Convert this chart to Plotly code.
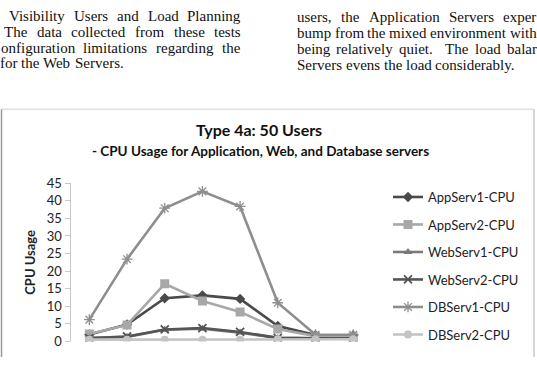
import plotly.graph_objects as go

categories = ["1", "2", "3", "4", "5", "6", "7", "8"]
app1 = [2.0, 4.8, 12.3, 13.1, 12.1, 4.4, 1.8, 1.7]
app2 = [2.1, 4.7, 16.4, 11.5, 8.4, 3.5, 1.5, 1.3]
web1 = [1.0, 1.3, 3.3, 3.6, 2.5, 1.0, 0.9, 0.9]
web2 = [0.9, 1.4, 3.4, 3.8, 2.7, 1.0, 0.9, 0.9]
db1 = [6.2, 23.4, 37.9, 42.7, 38.4, 11.0, 1.9, 1.9]
db2 = [0.5, 0.5, 0.5, 0.5, 0.5, 0.6, 0.6, 0.6]
y_ticks = [0, 5, 10, 15, 20, 25, 30, 35, 40, 45]

left_text = [
    "Visibility Users and Load Planning",
    "The data collected from these tests",
    "onfiguration limitations regarding the",
    "for the Web Servers.",
]
right_text = [
    "users, the Application Servers exper",
    "bump from the mixed environment with",
    "being relatively quiet.  The load balar",
    "Servers evens the load considerably.",
]

W, H = 537, 365
def px(x):
    return x / W
def py(y):
    return 1 - y / H

series = [
    ("AppServ1-CPU", app1, "#4a4a4a", "diamond", 8, None),
    ("AppServ2-CPU", app2, "#a8a8a8", "square", 9, None),
    ("WebServ1-CPU", web1, "#7a7a7a", "triangle-up", 8, None),
    ("WebServ2-CPU", web2, "#555555", "x-thin-open", 8, 1.8),
    ("DBServ1-CPU", db1, "#8e8e8e", "asterisk-open", 9, 1.3),
    ("DBServ2-CPU", db2, "#c4c4c4", "circle", 8, None),
]

fig = go.Figure()
for i, (name, vals, color, sym, size, lw) in enumerate(series):
    marker = dict(symbol=sym, size=size, color=color)
    if lw:
        marker["line"] = dict(color=color, width=lw)
    fig.add_trace(go.Scatter(
        x=categories, y=vals, name=name, mode="lines+markers",
        line=dict(color=color, width=2.6), marker=marker,
        legendgroup=f"g{i}",
    ))

font_family = "Lato, 'Open Sans', sans-serif"
fig.update_layout(
    width=W, height=H,
    margin=dict(l=0, r=0, t=0, b=0),
    paper_bgcolor="white", plot_bgcolor="white",
    showlegend=True,
    legend=dict(
        x=px(388), y=py(182), xanchor="left", yanchor="top",
        font=dict(family=font_family, size=13, color="#222222"),
        tracegroupgap=7.6, bgcolor="rgba(0,0,0,0)",
    ),
    xaxis=dict(
        domain=[px(70.5), px(372)], type="category",
        categoryorder="array", categoryarray=categories,
        range=[-0.5, 7.5], showticklabels=False, ticks="",
        showgrid=False, zeroline=False, showline=False,
    ),
    yaxis=dict(
        domain=[py(348.7), py(183.3)], range=[0, 45],
        tickvals=y_ticks, ticks="outside", ticklen=5, tickcolor="#c8c8c8",
        showline=True, linecolor="#c8c8c8", linewidth=1,
        showgrid=False, zeroline=False,
        tickfont=dict(family=font_family, size=13, color="#222222"),
        title=dict(text="<b>CPU Usage</b>", standoff=8,
                   font=dict(family=font_family, size=13, color="#222222")),
    ),
)

# chart titles
fig.add_annotation(x=px(258.5), y=py(127), xref="paper", yref="paper",
                   text="<b>Type 4a: 50 Users</b>", showarrow=False,
                   font=dict(family=font_family, size=16, color="#111111"))
fig.add_annotation(x=px(260), y=py(150), xref="paper", yref="paper",
                   text="<b>- CPU Usage for Application, Web, and Database servers</b>",
                   showarrow=False,
                   font=dict(family=font_family, size=13.5, color="#111111"))

# chart frame
fig.add_shape(type="line", xref="paper", yref="paper", x0=px(1.5), x1=px(534),
              y0=py(106), y1=py(106), line=dict(color="#e6e6e6", width=2))
fig.add_shape(type="line", xref="paper", yref="paper", x0=px(1.5), x1=px(1.5),
              y0=py(106), y1=0, line=dict(color="#9a9a9a", width=1.5))
fig.add_shape(type="line", xref="paper", yref="paper", x0=px(534), x1=px(534),
              y0=py(106), y1=0, line=dict(color="#c8c8c8", width=1.5))

# surrounding document text (Times metrics, justified word placement)
TW = {c: w for c, w in zip("abcdefghijklmnopqrstuvwxyz",
      [444, 500, 444, 500, 444, 333, 500, 500, 278, 278, 500, 278, 778,
       500, 500, 500, 500, 333, 389, 278, 500, 500, 722, 500, 500, 444])}
TW.update({c: w for c, w in zip("ABCDEFGHIJKLMNOPQRSTUVWXYZ",
      [722, 667, 667, 722, 611, 556, 722, 722, 333, 389, 722, 611, 889,
       722, 722, 556, 722, 667, 556, 611, 722, 722, 944, 722, 722, 611])})
TW.update({".": 250, ",": 250, "-": 333, " ": 250})
FS = 15.0
serif = "'Liberation Serif', 'Times New Roman', serif"

def word_w(w):
    return sum(TW.get(c, 500) for c in w) * FS / 1000.0

def place_line(text, x0, x1, baseline, justify):
    tokens = text.split(" ")
    words = []
    gaps = []
    pending = 0
    for tok in tokens:
        if tok == "":
            pending += 1
            continue
        if words:
            gaps.append(1 + pending)
        pending = 0
        words.append(tok)
    total_w = sum(word_w(w) for w in words)
    if justify and gaps:
        unit = (x1 - x0 - total_w) / sum(gaps)
    else:
        unit = TW[" "] * FS / 1000.0
    x = x0
    for k, w in enumerate(words):
        fig.add_annotation(x=px(x), y=py(baseline - 5), xref="paper", yref="paper",
                           text=w, showarrow=False, xanchor="left", yanchor="middle",
                           borderpad=0,
                           font=dict(family=serif, size=FS, color="#111111"))
        x += word_w(w)
        if k < len(gaps):
            x += unit * gaps[k]

left_starts = [8, 3, -0.5, -1]
left_base = [13, 29.7, 46.4, 63]
for i, t in enumerate(left_text):
    place_line(t, left_starts[i], 239.5, left_base[i], justify=(i < 3))

right_base = [14.5, 31, 47.7, 64.4]
for i, t in enumerate(right_text):
    place_line(t, 296, 535.5, right_base[i], justify=(i < 3))

fig.write_html("out.html")
